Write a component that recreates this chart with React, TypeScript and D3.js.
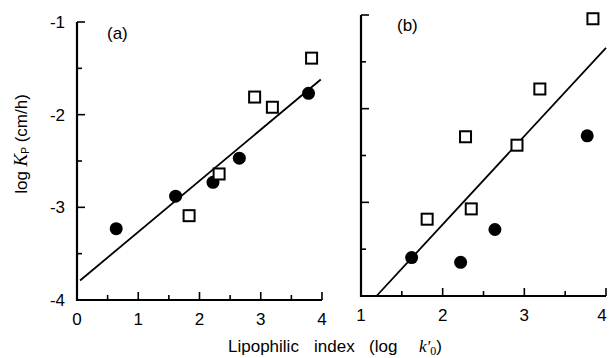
import React from "react";
import * as d3 from "d3";

const aCircleX = [0.64, 1.61, 2.22, 2.65, 3.78];
const aCircleY = [-3.23, -2.88, -2.73, -2.47, -1.77];
const aSquareX = [1.83, 2.32, 2.9, 3.19, 3.83];
const aSquareY = [-3.09, -2.64, -1.81, -1.92, -1.39];
const aLineX = [0.05, 3.98];
const aLineY = [-3.79, -1.62];

const bCircleX = [1.62, 2.22, 2.64, 3.77];
const bCircleY = [-3.59, -3.64, -3.29, -2.29];
const bSquareX = [1.81, 2.28, 2.35, 2.91, 3.19, 3.84];
const bSquareY = [-3.18, -2.3, -3.07, -2.39, -1.79, -1.04];
const bLineX = [1.19, 4.0];
const bLineY = [-4.0, -1.35];

const aXTicks = [0, 1, 2, 3, 4];
const bXTicks = [1, 2, 3, 4];
const yTicks = [-1, -2, -3, -4];

const FONT = "Liberation Sans, Arial, sans-serif";
const SERIF = "Liberation Serif, serif";

type PanelProps = {
  x0: number; x1: number; y0: number; y1: number;
  xDomain: [number, number];
  cx: number[]; cy: number[]; sx: number[]; sy: number[];
  lx: number[]; ly: number[];
  xTicks: number[]; showYLabels: boolean; tag: string; tagX: number; tagY: number;
  maxLabelX: number;
};

function Panel(p: PanelProps) {
  const xs = d3.scaleLinear().domain(p.xDomain).range([p.x0, p.x1]);
  const ys = d3.scaleLinear().domain([-4, -1]).range([p.y1, p.y0]);
  const xMinor = d3.range(p.xDomain[0] + 0.5, p.xDomain[1], 1);
  const yMinor = [-1.5, -2.5, -3.5];
  const line = d3.line<number>().x((_, i) => xs(p.lx[i])).y((_, i) => ys(p.ly[i]));
  return (
    <g>
      <path d={`M${p.x0},${p.y0}V${p.y1}H${p.x1}`} fill="none" stroke="#000" strokeWidth={2.2} />
      {p.xTicks.map((t) => (
        <g key={"xt" + t}>
          {t !== p.xDomain[0] && (
            <line x1={xs(t)} x2={xs(t)} y1={p.y1} y2={p.y1 - 8} stroke="#000" strokeWidth={1.6} />
          )}
          <text x={Math.min(xs(t), p.maxLabelX)} y={p.y1 + 25} textAnchor="middle" fontFamily={FONT} fontSize={17}>{t}</text>
        </g>
      ))}
      {xMinor.map((t) => (
        <line key={"xm" + t} x1={xs(t)} x2={xs(t)} y1={p.y1} y2={p.y1 - 5} stroke="#000" strokeWidth={1.6} />
      ))}
      {yTicks.map((t) => (
        <g key={"yt" + t}>
          {t !== -4 && (
            <line x1={p.x0} x2={p.x0 + 8} y1={ys(t)} y2={ys(t)} stroke="#000" strokeWidth={1.6} />
          )}
          {p.showYLabels && (
            <text x={p.x0 - 12} y={ys(t) + 6} textAnchor="end" fontFamily={FONT} fontSize={17}>{t}</text>
          )}
        </g>
      ))}
      {yMinor.map((t) => (
        <line key={"ym" + t} x1={p.x0} x2={p.x0 + 5} y1={ys(t)} y2={ys(t)} stroke="#000" strokeWidth={1.6} />
      ))}
      <path d={line(p.lx) || ""} fill="none" stroke="#000" strokeWidth={1.8} />
      {p.cx.map((v, i) => (
        <circle key={"c" + i} cx={xs(v)} cy={ys(p.cy[i])} r={6.5} fill="#000" />
      ))}
      {p.sx.map((v, i) => (
        <rect key={"s" + i} x={xs(v) - 5.5} y={ys(p.sy[i]) - 5.5} width={11} height={11} fill="#fff" stroke="#000" strokeWidth={2} />
      ))}
      <text x={p.tagX} y={p.tagY} fontFamily={FONT} fontSize={17}>{p.tag}</text>
    </g>
  );
}

export default function App() {
  return (
    <svg width={609} height={358} style={{ position: "absolute", left: 0, top: 0, background: "#fff" }}>
      <rect width={609} height={358} fill="#fff" />
      <Panel x0={77} x1={322} y0={22} y1={300} xDomain={[0, 4]}
        cx={aCircleX} cy={aCircleY} sx={aSquareX} sy={aSquareY} lx={aLineX} ly={aLineY}
        xTicks={aXTicks} showYLabels={true} tag="(a)" tagX={107} tagY={39} maxLabelX={600} />
      <Panel x0={361} x1={606} y0={15} y1={296} xDomain={[1, 4]}
        cx={bCircleX} cy={bCircleY} sx={bSquareX} sy={bSquareY} lx={bLineX} ly={bLineY}
        xTicks={bXTicks} showYLabels={false} tag="(b)" tagX={397} tagY={31} maxLabelX={602} />
      <text transform="translate(27,144) rotate(-90)" textAnchor="middle" fontFamily={FONT} fontSize={17}>
        log <tspan fontFamily={SERIF} fontStyle="italic" fontSize={19}>K</tspan>
        <tspan fontSize={10} dy={2}>P</tspan>
        <tspan dy={-2}> (cm/h)</tspan>
      </text>
      <text y={352} fontFamily={FONT} fontSize={17}>
        <tspan x={228}>Lipophilic</tspan>
        <tspan x={314}>index</tspan>
        <tspan x={369}>(log</tspan>
        <tspan x={419} fontFamily={SERIF} fontStyle="italic">k′</tspan>
        <tspan fontFamily={SERIF} fontSize={12} dy={3}>0</tspan>
        <tspan dy={-3}>)</tspan>
      </text>
    </svg>
  );
}
